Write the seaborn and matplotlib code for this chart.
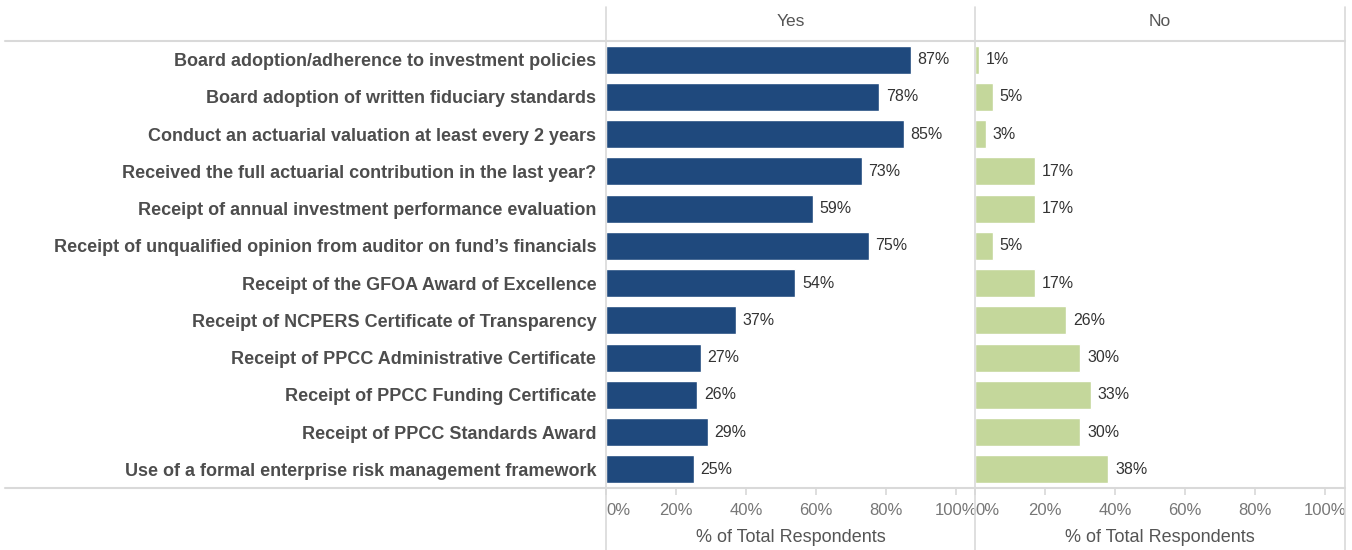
import matplotlib.pyplot as plt
import matplotlib.transforms as mtransforms
import pandas as pd
import seaborn as sns
from matplotlib.lines import Line2D

sns.set_theme(style="white")
plt.rcParams["font.family"] = ["Liberation Sans", "DejaVu Sans"]

measures = [
    "Board adoption/adherence to investment policies",
    "Board adoption of written fiduciary standards",
    "Conduct an actuarial valuation at least every 2 years",
    "Received the full actuarial contribution in the last year?",
    "Receipt of annual investment performance evaluation",
    "Receipt of unqualified opinion from auditor on fund\u2019s financials",
    "Receipt of the GFOA Award of Excellence",
    "Receipt of NCPERS Certificate of Transparency",
    "Receipt of PPCC Administrative Certificate",
    "Receipt of PPCC Funding Certificate",
    "Receipt of PPCC Standards Award",
    "Use of a formal enterprise risk management framework",
]
yes_pct = [87, 78, 85, 73, 59, 75, 54, 37, 27, 26, 29, 25]
no_pct = [1, 5, 3, 17, 17, 5, 17, 26, 30, 33, 30, 38]
tick_values = [0, 20, 40, 60, 80, 100]

df = pd.DataFrame({"measure": measures, "Yes": yes_pct, "No": no_pct})

W, H = 1352, 550
fig = plt.figure(figsize=(W / 100, H / 100), dpi=100)

grid_color = "#d9d9d9"
label_color = "#555555"
panels = [("Yes", "#1f497d", 606), ("No", "#c4d79b", 975)]

for i, (col, color, x0) in enumerate(panels):
    ax = fig.add_axes([x0 / W, 62 / H, 370 / W, 447 / H])
    sns.barplot(data=df, x=col, y="measure", ax=ax, color=color, orient="h",
                width=0.75, order=measures, saturation=1)
    ax.set_xlim(0, 105.7)
    ax.set_ylim(len(measures) - 0.5, -0.5)
    for s in ax.spines.values():
        s.set_visible(False)
    ax.bar_label(ax.containers[0], labels=[f"{v}%" for v in df[col]],
                 padding=5, fontsize=11.5, color="#333333")
    ax.set_xticks(tick_values)
    ax.set_xticklabels([f"{t}%" for t in tick_values], fontsize=12, color="#777777")
    first = ax.get_xticklabels()[0]
    first.set_horizontalalignment("left")
    first.set_transform(first.get_transform() +
                        mtransforms.ScaledTranslation(3 / 100, 0, fig.dpi_scale_trans))
    ax.tick_params(axis="x", bottom=True, length=5, color=grid_color, pad=6)
    ax.set_xlabel("% of Total Respondents", fontsize=13, color=label_color, labelpad=8)
    ax.set_ylabel("")
    if i == 0:
        ax.tick_params(axis="y", left=False, length=0, pad=7)
        ax.set_yticks(range(len(measures)))
        ax.set_yticklabels(measures, fontsize=13, fontweight="bold", color="#4d4d4d")
    else:
        ax.set_yticks([])
    fig.text((x0 + 185) / W, 1 - 22 / H, col, ha="center", va="center",
             fontsize=12.5, color=label_color)

# frame lines like the original table layout
for x in [606, 975, 1345]:
    fig.add_artist(Line2D([x / W, x / W], [0, 1 - 7 / H], color=grid_color, lw=1.2))
for y in [41, 488]:
    fig.add_artist(Line2D([5 / W, 1345 / W], [1 - y / H, 1 - y / H], color=grid_color, lw=1.5))

fig.savefig("out.png", dpi=100)
